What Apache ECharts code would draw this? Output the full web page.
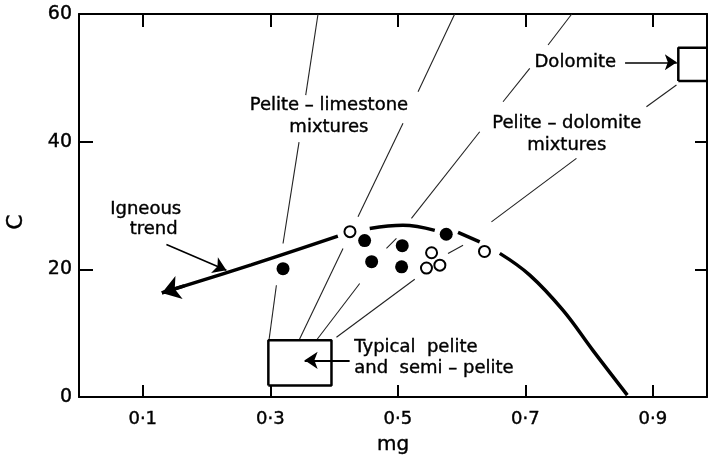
<!DOCTYPE html>
<html><head><meta charset="utf-8">
<script src="https://cdn.jsdelivr.net/npm/echarts@6/dist/echarts.min.js"></script>
<style>html,body{margin:0;padding:0;background:#fff}#c{width:708px;height:457px}</style>
</head><body><div id="c"></div>
<script>
// ---------- data ----------
const xTickValues = [0.1, 0.3, 0.5, 0.7, 0.9];
const yTickValues = [0, 20, 40, 60];

// Igneous trend curve (null = gap in the drawn line)
const curveMg = [0.13, 0.27, 0.406, null, 0.456, 0.508, 0.558, null, 0.5945, 0.6285, null, 0.660, 0.707, 0.759, 0.806, 0.860];
const curveC  = [16.3, 20.7, 25.2,  null, 26.4,  26.9,  26.1,  null, 25.8,   24.3,   null, 22.5,  19.1,  13.6,  7.3,   0.3];

// Analyses
const filledMg = [0.320, 0.448, 0.507, 0.459, 0.506, 0.576];
const filledC  = [20.1,  24.5,  23.7,  21.2,  20.4,  25.5];
const openMg   = [0.425, 0.553, 0.545, 0.566, 0.636];
const openC    = [25.9,  22.6,  20.2,  20.65, 22.8];

// Composition fields
const peliteBoxMg   = [0.297, 0.396];
const peliteBoxC    = [1.8, 8.9];
const dolomiteBoxMg = [0.94, 1.0];
const dolomiteBoxC  = [49.5, 54.7];

// Mixture lines: visible pieces [mg1, C1, mg2, C2]
const limestoneLine1 = [[0.3749, 60, 0.3556, 47.3], [0.3451, 39.93, 0.3200, 24.05], [0.3096, 17.51, 0.2980, 8.89]];
const limestoneLine2 = [[0.5893, 60, 0.5318, 47.82], [0.5082, 42.87, 0.4376, 28.22], [0.4141, 23.27, 0.3451, 8.89]];
const mixtureLine3   = [[0.7729, 60, 0.7357, 55.14], [0.7070, 51.49, 0.6651, 46.25], [0.6285, 41.55, 0.5214, 27.97], [0.4979, 24.84, 0.4822, 23.27], [0.4403, 17.78, 0.3724, 8.89]];
const dolomiteLine4  = [[0.9371, 48.87, 0.8900, 45.47], [0.7802, 37.38, 0.6469, 27.44], [0.6024, 23.78, 0.5788, 22.48], [0.5266, 18.45, 0.4038, 9.36]];

// Arrows [mgFrom, CFrom, mgTo, CTo]
const dolomiteArrow = [0.8565, 52.44, 0.9377, 52.44];
const peliteArrow   = [0.4245, 5.75, 0.3539, 5.75];
const igneousPointer = [0.1371, 23.9, 0.2312, 19.86];
const trendHead     = [0.165, 17.4, 0.13, 16.3];

// Annotation texts and anchors
const noteTexts = ['Pelite – limestone\nmixtures', 'Pelite – dolomite\nmixtures', 'Dolomite', 'Igneous', 'trend'];
const noteMg    = [0.392, 0.765, 0.7784, 0.1046, 0.1172];
const noteC     = [43.9, 41.2, 52.5, 29.4, 26.2];
const peliteText = 'Typical  pelite\nand  semi – pelite';
const peliteTextPos = [0.431, 6.2];

// ---------- chart ----------
const INK = '#000';
const FONT = 'DejaVu Sans';
const chart = echarts.init(document.getElementById('c'));

function segmentsOf(mg, c) {
  const segs = []; let cur = [];
  mg.forEach((m, i) => {
    if (m === null) { if (cur.length) segs.push(cur); cur = []; }
    else cur.push([m, c[i]]);
  });
  if (cur.length) segs.push(cur);
  return segs;
}
function boxPath(mg, c) {
  return [[mg[0], c[0]], [mg[1], c[0]], [mg[1], c[1]], [mg[0], c[1]], [mg[0], c[0]]];
}
const fmtX = v => v.toFixed(1).replace('.', '·');

const series = [];
segmentsOf(curveMg, curveC).forEach(seg => {
  series.push({type: 'line', data: seg, smooth: seg.length > 2 ? 0.4 : false, symbol: 'none',
    lineStyle: {color: INK, width: 3.5}, z: 4, silent: true});
});
[limestoneLine1, limestoneLine2, mixtureLine3, dolomiteLine4].forEach(line => {
  series.push({type: 'lines', coordinateSystem: 'cartesian2d', silent: true, z: 2,
    lineStyle: {color: '#222', width: 1.1, opacity: 1},
    data: line.map(s => ({coords: [[s[0], s[1]], [s[2], s[3]]]}))});
});
[[peliteBoxMg, peliteBoxC], [dolomiteBoxMg, dolomiteBoxC]].forEach(b => {
  series.push({type: 'line', data: boxPath(b[0], b[1]), symbol: 'none', silent: true,
    lineStyle: {color: INK, width: 2.5}, z: 4});
});
[[dolomiteArrow, 1.5, [8, 12]], [peliteArrow, 2, [9, 13]], [igneousPointer, 1.6, [8, 13]], [trendHead, 3.5, [13, 18]]].forEach(a => {
  const s = a[0];
  series.push({type: 'lines', coordinateSystem: 'cartesian2d', silent: true, z: 5,
    symbol: ['none', 'arrow'], symbolSize: a[2],
    lineStyle: {color: INK, width: a[1], opacity: 1},
    data: [{coords: [[s[0], s[1]], [s[2], s[3]]]}]});
});
series.push({type: 'scatter', data: filledMg.map((m, i) => [m, filledC[i]]), symbol: 'circle', symbolSize: 13,
  itemStyle: {color: INK, opacity: 1}, z: 6, silent: true});
series.push({type: 'scatter', data: openMg.map((m, i) => [m, openC[i]]), symbol: 'circle', symbolSize: 11,
  itemStyle: {color: '#fff', borderColor: INK, borderWidth: 2, opacity: 1}, z: 6, silent: true});
const textStyle = {show: true, color: INK, fontFamily: FONT, fontSize: 18, opacity: 1, textBorderColor: INK, textBorderWidth: 0.4};
series.push({type: 'scatter', silent: true, z: 7, symbolSize: 1, itemStyle: {color: 'rgba(0,0,0,0)', opacity: 1},
  data: noteTexts.map((t, i) => ({value: [noteMg[i], noteC[i]], label: {formatter: t}})),
  label: Object.assign({}, textStyle, {position: 'inside', lineHeight: 22, align: 'center'})});
series.push({type: 'scatter', silent: true, z: 7, symbolSize: 1, itemStyle: {color: 'rgba(0,0,0,0)', opacity: 1},
  data: [{value: peliteTextPos, label: {formatter: peliteText}}],
  label: Object.assign({}, textStyle, {position: 'right', distance: 0, lineHeight: 21, align: 'left'})});

const axisLine = {show: true, onZero: false, lineStyle: {color: INK, width: 2}};
const tickText = {color: INK, fontFamily: FONT, textBorderColor: INK, textBorderWidth: 0.4};
chart.setOption({
  animation: false,
  backgroundColor: '#fff',
  grid: {left: 79, right: 1, top: 14, bottom: 60, containLabel: false, outerBoundsMode: 'none'},
  xAxis: [
    {type: 'value', min: 0, max: 0.985, position: 'bottom', axisLine,
      axisTick: {show: true, inside: true, length: 12, customValues: xTickValues, lineStyle: {color: INK, width: 2}},
      axisLabel: Object.assign({show: true, customValues: xTickValues, formatter: fmtX, fontSize: 18, margin: 13}, tickText),
      splitLine: {show: false},
      name: 'mg', nameLocation: 'middle', nameGap: 38, nameTextStyle: Object.assign({fontSize: 20}, tickText)},
    {type: 'value', min: 0, max: 0.985, position: 'top', axisLine,
      axisTick: {show: true, inside: true, length: 13, customValues: xTickValues, lineStyle: {color: INK, width: 2}},
      axisLabel: {show: false}, splitLine: {show: false}}
  ],
  yAxis: [
    {type: 'value', min: 0, max: 60, interval: 20, position: 'left', axisLine,
      axisTick: {show: true, inside: true, length: 14, customValues: yTickValues, lineStyle: {color: INK, width: 2}},
      axisLabel: Object.assign({show: true, customValues: yTickValues, fontSize: 19, margin: 7}, tickText),
      splitLine: {show: false}},
    {type: 'value', min: 0, max: 60, interval: 20, position: 'right', axisLine,
      axisTick: {show: true, inside: true, length: 12, customValues: yTickValues, lineStyle: {color: INK, width: 2}},
      axisLabel: {show: false}, splitLine: {show: false}}
  ],
  graphic: [{type: 'text', x: 16, y: 222, rotation: Math.PI / 2,
    style: {text: 'C', align: 'center', verticalAlign: 'middle', font: '22px "DejaVu Sans"', fill: INK, stroke: INK, lineWidth: 0.4}}],
  series
});
</script></body></html>
